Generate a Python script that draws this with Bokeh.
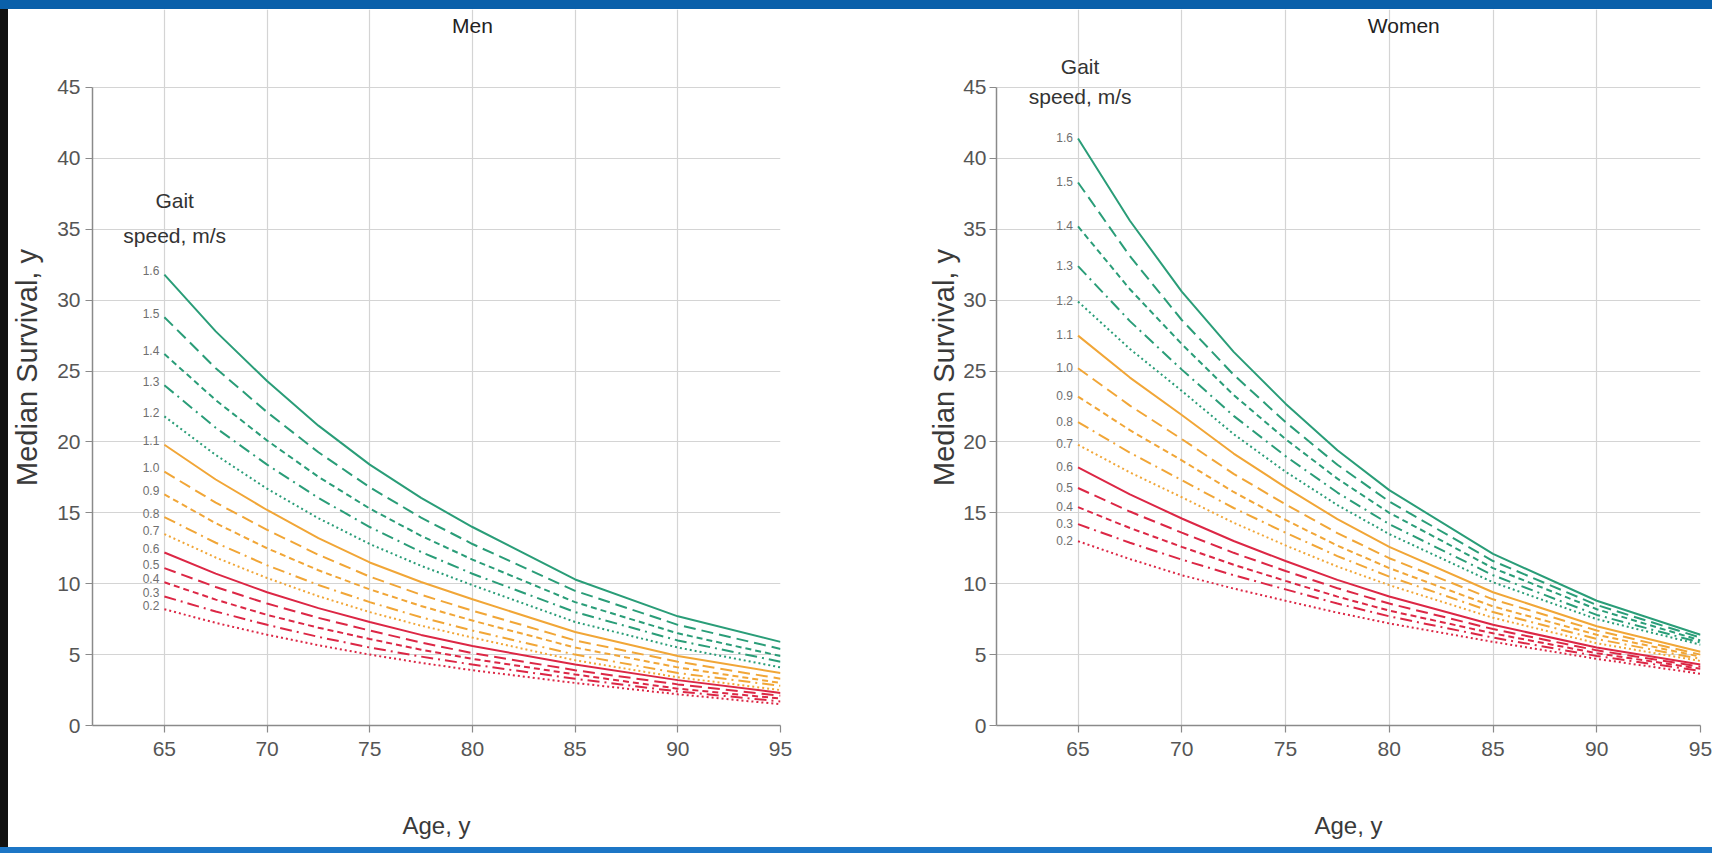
from bokeh.plotting import figure
from bokeh.models import FixedTicker, Range1d, Label, Div
from bokeh.layouts import column, row
from bokeh.embed import file_html
from bokeh.resources import INLINE

# ---------------- data ----------------
ages = [65, 67.5, 70, 72.5, 75, 77.5, 80, 85, 90, 95]
speed_labels = ["1.6", "1.5", "1.4", "1.3", "1.2", "1.1", "1.0", "0.9",
                "0.8", "0.7", "0.6", "0.5", "0.4", "0.3", "0.2"]

men_16 = [31.8, 27.8, 24.3, 21.15, 18.4, 16.05, 14.0, 10.3, 7.7, 5.9]
men_15 = [28.8, 25.2, 22.1, 19.27, 16.8, 14.66, 12.8, 9.5, 7.1, 5.4]
men_14 = [26.2, 22.95, 20.1, 17.54, 15.3, 13.38, 11.7, 8.7, 6.5, 4.9]
men_13 = [24.0, 21.0, 18.4, 16.05, 14.0, 12.24, 10.7, 8.0, 6.0, 4.5]
men_12 = [21.8, 19.08, 16.7, 14.62, 12.8, 11.26, 9.9, 7.3, 5.5, 4.1]
men_11 = [19.8, 17.35, 15.2, 13.22, 11.5, 10.12, 8.9, 6.6, 4.9, 3.7]
men_10 = [17.9, 15.72, 13.8, 12.04, 10.5, 9.22, 8.1, 6.0, 4.5, 3.3]
men_09 = [16.3, 14.27, 12.5, 10.95, 9.6, 8.43, 7.4, 5.5, 4.1, 3.0]
men_08 = [14.7, 12.89, 11.3, 9.91, 8.7, 7.63, 6.7, 5.0, 3.7, 2.8]
men_07 = [13.5, 11.85, 10.4, 9.12, 8.0, 7.04, 6.2, 4.6, 3.4, 2.5]
men_06 = [12.2, 10.71, 9.4, 8.28, 7.3, 6.39, 5.6, 4.3, 3.2, 2.3]
men_05 = [11.1, 9.77, 8.6, 7.59, 6.7, 5.85, 5.1, 3.9, 2.9, 2.1]
men_04 = [10.1, 8.88, 7.8, 6.9, 6.1, 5.35, 4.7, 3.6, 2.6, 1.9]
men_03 = [9.1, 8.04, 7.1, 6.25, 5.5, 4.86, 4.3, 3.3, 2.4, 1.7]
men_02 = [8.2, 7.24, 6.4, 5.66, 5.0, 4.42, 3.9, 3.0, 2.2, 1.5]

women_16 = [41.4, 35.6, 30.6, 26.35, 22.7, 19.41, 16.6, 12.1, 8.8, 6.4]
women_15 = [38.3, 33.1, 28.6, 24.74, 21.4, 18.39, 15.8, 11.6, 8.5, 6.2]
women_14 = [35.2, 30.77, 26.9, 23.31, 20.2, 17.41, 15.0, 11.1, 8.2, 6.0]
women_13 = [32.4, 28.52, 25.1, 21.84, 19.0, 16.43, 14.2, 10.6, 7.8, 5.85]
women_12 = [29.9, 26.56, 23.6, 20.55, 17.9, 15.55, 13.5, 10.1, 7.5, 5.7]
women_11 = [27.5, 24.54, 21.9, 19.18, 16.8, 14.55, 12.6, 9.4, 7.0, 5.2]
women_10 = [25.2, 22.56, 20.2, 17.75, 15.6, 13.57, 11.8, 8.9, 6.7, 5.0]
women_09 = [23.2, 20.83, 18.7, 16.47, 14.5, 12.69, 11.1, 8.4, 6.4, 4.85]
women_08 = [21.4, 19.24, 17.3, 15.34, 13.6, 11.95, 10.5, 8.0, 6.1, 4.7]
women_07 = [19.8, 17.85, 16.1, 14.3, 12.7, 11.21, 9.9, 7.6, 5.8, 4.55]
women_06 = [18.2, 16.3, 14.6, 13.01, 11.6, 10.27, 9.1, 7.1, 5.5, 4.3]
women_05 = [16.75, 15.09, 13.6, 12.18, 10.9, 9.68, 8.6, 6.8, 5.3, 4.15]
women_04 = [15.4, 13.93, 12.6, 11.34, 10.2, 9.09, 8.1, 6.5, 5.1, 4.0]
women_03 = [14.2, 12.89, 11.7, 10.6, 9.6, 8.6, 7.7, 6.2, 4.9, 3.85]
women_02 = [13.0, 11.74, 10.6, 9.66, 8.8, 7.96, 7.2, 5.9, 4.7, 3.65]

men_series = [men_16, men_15, men_14, men_13, men_12, men_11, men_10, men_09,
              men_08, men_07, men_06, men_05, men_04, men_03, men_02]
women_series = [women_16, women_15, women_14, women_13, women_12, women_11,
                women_10, women_09, women_08, women_07, women_06, women_05,
                women_04, women_03, women_02]

x_ticks = [65, 70, 75, 80, 85, 90, 95]
y_ticks = [0, 5, 10, 15, 20, 25, 30, 35, 40, 45]

# ---------------- styles ----------------
GREEN = "#2a9d78"
ORANGE = "#f1a637"
RED = "#dc2745"
group_colors = [GREEN] * 5 + [ORANGE] * 5 + [RED] * 5
dash_cycle = ["solid", "12 6", "6 4", "12 5 2 5", "2 3"]
FONT = "Liberation Sans"


def make_panel(title, series, width, x_start, bl, br, ylab_standoff,
               ytick_standoff, title_x, gait_x, gait_y, speed_y, lab_off):
    p = figure(width=width, height=838,
               x_range=Range1d(x_start, 95), y_range=Range1d(0, 50.5),
               output_backend="svg", toolbar_location=None,
               min_border_left=bl, min_border_right=br,
               min_border_top=0, min_border_bottom=122)
    p.outline_line_color = None
    p.background_fill_color = "white"
    p.border_fill_color = "white"

    for ax in (p.xaxis[0], p.yaxis[0]):
        ax.axis_line_color = "#8a8a8a"
        ax.axis_line_width = 1.5
        ax.major_tick_line_color = "#8a8a8a"
        ax.major_tick_line_width = 1.2
        ax.major_tick_out = 7
        ax.major_tick_in = 0
        ax.minor_tick_line_color = None
        ax.major_label_text_font = FONT
        ax.major_label_text_font_size = "21px"
        ax.major_label_text_color = "#555555"
        ax.axis_label_text_font = FONT
        ax.axis_label_text_font_style = "normal"
        ax.axis_label_text_color = "#3a3a3a"

    p.xaxis.ticker = FixedTicker(ticks=x_ticks)
    p.yaxis.ticker = FixedTicker(ticks=y_ticks)
    p.yaxis.bounds = (0, 45)
    p.xaxis.axis_label = "Age, y"
    p.yaxis.axis_label = "Median Survival, y"
    p.xaxis.axis_label_text_font_size = "24px"
    p.yaxis.axis_label_text_font_size = "29px"
    p.xaxis.major_label_standoff = 9
    p.xaxis.axis_label_standoff = 53
    p.yaxis.major_label_standoff = ytick_standoff
    p.yaxis.axis_label_standoff = ylab_standoff

    p.xgrid.ticker = FixedTicker(ticks=x_ticks)
    p.ygrid.ticker = FixedTicker(ticks=y_ticks)
    p.xgrid.bounds = (0, 45)
    p.grid.grid_line_color = "#d4d4d4"
    p.grid.grid_line_width = 1.2

    for i, vals in enumerate(series):
        p.line(ages, vals, line_color=group_colors[i],
               line_dash=dash_cycle[i % 5], line_width=2.0)
        p.add_layout(Label(x=ages[0], y=vals[0], text=speed_labels[i],
                           x_offset=-5, y_offset=lab_off,
                           text_align="right", text_baseline="middle",
                           text_font=FONT, text_font_size="12px",
                           text_color="#6f6f6f"))

    p.add_layout(Label(x=title_x, y=49.4, text=title,
                       text_align="center", text_baseline="middle",
                       text_font=FONT, text_font_size="21px",
                       text_color="#222222"))
    p.add_layout(Label(x=gait_x, y=gait_y, text="Gait",
                       text_align="center", text_baseline="middle",
                       text_font=FONT, text_font_size="21px",
                       text_color="#333333"))
    p.add_layout(Label(x=gait_x, y=speed_y, text="speed, m/s",
                       text_align="center", text_baseline="middle",
                       text_font=FONT, text_font_size="21px",
                       text_color="#333333"))
    return p


p_men = make_panel("Men", men_series, 897, 61.5, 79, 125, 11, 5,
                   80.0, 65.5, 37.0, 34.55, 4)
p_women = make_panel("Women", women_series, 807, 61.07, 91, 12, 0, 3,
                     80.7, 65.1, 46.5, 44.35, 1)

top_bar = Div(text="", width=1712, height=9, margin=0,
              styles={"background-color": "#0a60aa"})
bottom_bar = Div(text="", width=1712, height=6, margin=0,
                 styles={"background-color": "#1d76c6"})
left_bar = Div(text="", width=8, height=838, margin=0,
               styles={"background-color": "#111111"})

layout = column(top_bar, row(left_bar, p_men, p_women, spacing=0),
                bottom_bar, spacing=0)

open("out.html", "w").write(file_html(layout, INLINE))
